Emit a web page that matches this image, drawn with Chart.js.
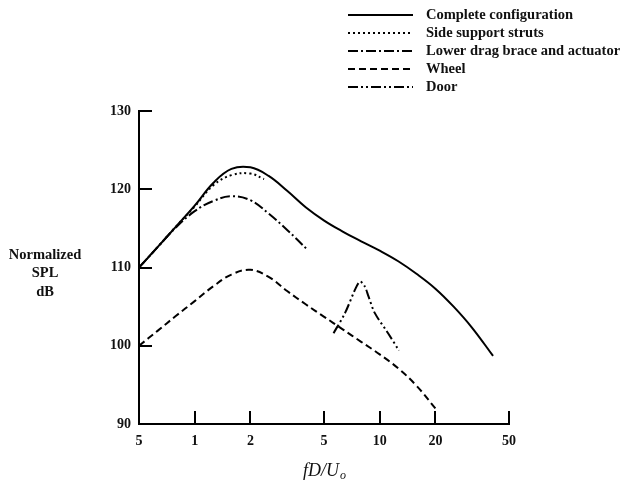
<!DOCTYPE html>
<html>
<head>
<meta charset="utf-8">
<script src="https://cdn.jsdelivr.net/npm/chart.js@4.4.0/dist/chart.umd.min.js"></script>
<style>
  html, body { margin: 0; background: #fff; }
</style>
</head>
<body>
<canvas id="chart" width="627" height="481"></canvas>
<script>
// axis ticks
const xTicks = [0.5, 1, 2, 5, 10, 20, 50];
const xTickLabels = ["5", "1", "2", "5", "10", "20", "50"];
const yTicks = [90, 100, 110, 120, 130];

const seriesNames = [
  "Complete configuration",
  "Side support struts",
  "Lower drag brace and actuator",
  "Wheel",
  "Door",
];

// values (fD/Uo, dB)
const completeX = [0.5, 0.63, 0.79, 1.0, 1.26, 1.58, 2.0, 2.51, 3.16, 3.98, 5.01, 6.31, 7.94, 10, 12.6, 15.8, 20, 25.1, 31.6, 41];
const completeY = [110, 112.6, 115.2, 117.9, 120.8, 122.6, 122.8, 121.7, 119.8, 117.7, 116.0, 114.6, 113.35, 112.15, 110.8, 109.2, 107.3, 105.0, 102.3, 98.7];

const strutsX = [0.5, 0.63, 0.79, 1.0, 1.26, 1.58, 2.0, 2.37];
const strutsY = [110, 112.6, 115.2, 117.8, 120.5, 121.8, 122.0, 121.3];

const braceX = [0.5, 0.63, 0.79, 1.0, 1.26, 1.58, 2.0, 2.51, 3.16, 4.1];
const braceY = [110, 112.6, 115.1, 117.2, 118.5, 119.1, 118.6, 116.9, 114.8, 112.2];

const wheelX = [0.5, 0.63, 0.79, 1.0, 1.26, 1.58, 2.0, 2.51, 3.16, 3.98, 5.01, 6.31, 7.94, 10, 12.6, 15.8, 20];
const wheelY = [100, 101.9, 103.8, 105.7, 107.6, 109.1, 109.7, 108.8, 107.0, 105.3, 103.7, 102.1, 100.5, 98.9, 97.1, 94.9, 92.0];

const doorX = [5.63, 6.5, 7.4, 7.83, 8.3, 8.7, 9.4, 11.1, 12.7];
const doorY = [101.6, 104.2, 107.3, 108.2, 107.6, 106.3, 104.2, 101.6, 99.4];

const dashes = [[], [2, 3], [10, 3, 2, 3], [7, 4], [10, 3, 2, 3, 2, 3]];

function pairs(xs, ys) {
  return xs.map((x, i) => ({ x: x, y: ys[i] }));
}

const seriesData = [
  pairs(completeX, completeY),
  pairs(strutsX, strutsY),
  pairs(braceX, braceY),
  pairs(wheelX, wheelY),
  pairs(doorX, doorY),
];

const serif = "'Liberation Serif', 'DejaVu Serif', serif";

// inward ticks, legend and axis titles
const decorations = {
  id: "decorations",
  afterDraw(chart) {
    const { ctx, chartArea, scales } = chart;
    ctx.save();
    ctx.strokeStyle = "#000";
    ctx.lineWidth = 2;
    ctx.setLineDash([]);
    yTicks.slice(1).forEach(v => {
      const py = Math.round(scales.y.getPixelForValue(v));
      ctx.beginPath();
      ctx.moveTo(chartArea.left, py);
      ctx.lineTo(chartArea.left + 13, py);
      ctx.stroke();
    });
    xTicks.slice(1).forEach(v => {
      const px = Math.round(scales.x.getPixelForValue(v));
      ctx.beginPath();
      ctx.moveTo(px, chartArea.bottom);
      ctx.lineTo(px, chartArea.bottom - 13);
      ctx.stroke();
    });

    // legend
    ctx.fillStyle = "#111";
    ctx.font = "bold 14.5px " + serif;
    ctx.textBaseline = "middle";
    ctx.textAlign = "left";
    seriesNames.forEach((name, i) => {
      const ly = 15 + i * 18;
      ctx.setLineDash(dashes[i]);
      ctx.beginPath();
      ctx.moveTo(348, ly);
      ctx.lineTo(413, ly);
      ctx.stroke();
      ctx.fillText(name, 426, ly);
    });
    ctx.setLineDash([]);

    // y title
    ctx.textAlign = "center";
    ctx.fillText("Normalized", 45, 255);
    ctx.fillText("SPL", 45, 273);
    ctx.fillText("dB", 45, 292);

    // x title fD/Uo
    ctx.textAlign = "left";
    ctx.font = "italic 18px " + serif;
    ctx.fillText("fD/U", 303, 471);
    const w = ctx.measureText("fD/U").width;
    ctx.font = "italic 12px " + serif;
    ctx.fillText("o", 304 + w, 476);
    ctx.restore();
  },
};

new Chart(document.getElementById("chart").getContext("2d"), {
  type: "line",
  data: {
    datasets: seriesNames.map((name, i) => ({
      label: name,
      data: seriesData[i],
      borderColor: "#000",
      borderWidth: 2,
      borderDash: dashes[i],
      pointRadius: 0,
      fill: false,
      tension: i === 4 ? 0.3 : 0.4,
    })),
  },
  options: {
    responsive: false,
    animation: false,
    layout: { padding: { top: 111, right: 118, left: 0, bottom: 0 } },
    plugins: {
      legend: { display: false },
      tooltip: { enabled: false },
    },
    scales: {
      x: {
        type: "logarithmic",
        min: 0.5,
        max: 50,
        afterBuildTicks: s => { s.ticks = xTicks.map(v => ({ value: v })); },
        afterFit: s => { s.height = 57; },
        grid: { display: false, drawTicks: false },
        border: { display: true, color: "#000", width: 2 },
        ticks: {
          autoSkip: false,
          maxRotation: 0,
          padding: 9,
          color: "#111",
          font: { family: serif, size: 14, weight: "bold" },
          callback: (v, i) => xTickLabels[i],
        },
      },
      y: {
        type: "linear",
        min: 90,
        max: 130,
        afterBuildTicks: s => { s.ticks = yTicks.map(v => ({ value: v })); },
        afterFit: s => { s.width = 139; },
        grid: { display: false, drawTicks: false },
        border: { display: true, color: "#000", width: 2 },
        ticks: {
          padding: 8,
          color: "#111",
          font: { family: serif, size: 14, weight: "bold" },
        },
      },
    },
  },
  plugins: [decorations],
});
</script>
</body>
</html>
